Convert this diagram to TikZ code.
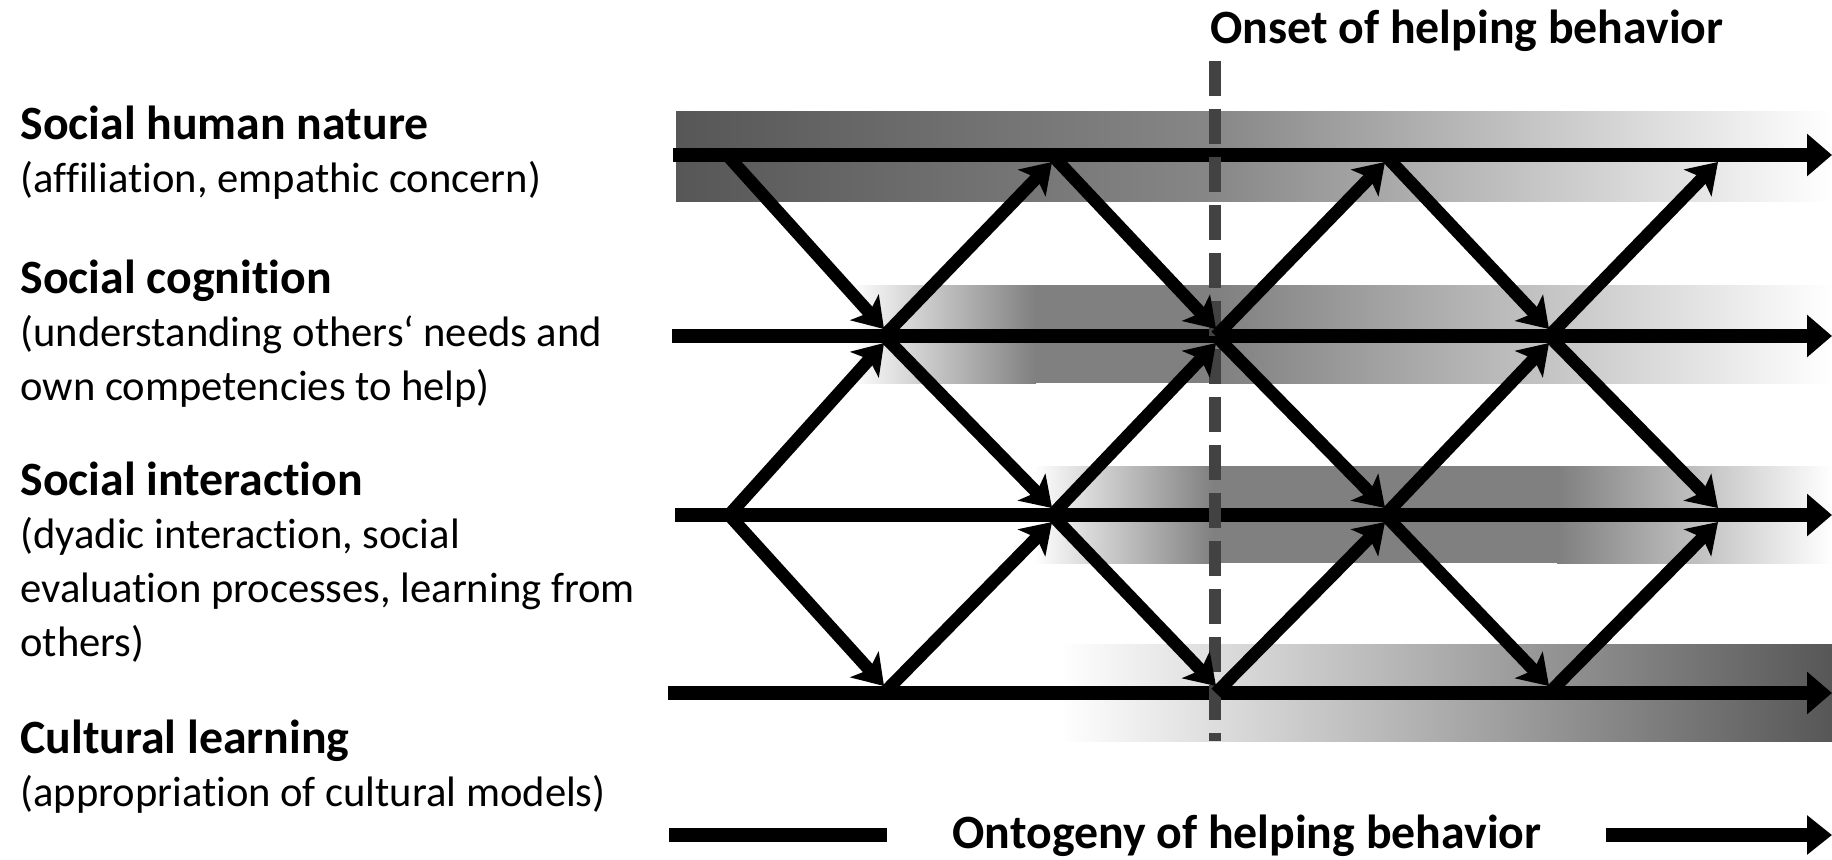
\documentclass[tikz,border=0pt]{standalone}
\usepackage{fontspec}
\setmainfont{Carlito}[Ligatures={NoCommon}]
\usetikzlibrary{arrows.meta}
\definecolor{dk}{gray}{0.34}
\definecolor{md}{gray}{0.50}
\definecolor{mdl}{gray}{0.53}
\definecolor{dashc}{gray}{0.26}
\begin{document}
\begin{tikzpicture}[x=0.5pt,y=-0.5pt,
  hline/.style={line width=7pt,-{Triangle[length=12.5pt,width=20.5pt]}},
  barline/.style={line width=7pt},
  diag/.style={line width=6.3pt,-{Stealth[length=14.5pt,width=19pt,inset=3.5pt]}},
  jn/.style={inner sep=0pt,outer sep=0pt,minimum width=0pt,minimum height=7pt,shape=rectangle},
  headtxt/.style={font=\fontsize{23.9}{28}\selectfont\bfseries,anchor=base west,inner sep=0pt},
  subtxt/.style={font=\fontsize{21.3}{26}\selectfont,anchor=base west,inner sep=0pt},
  onset/.style={line width=6pt,draw=dashc,dash pattern=on 17.5pt off 6.5pt},
  band/.style={draw=none}]
\useasboundingbox (0,0) rectangle (1832,859);

% ---- bands ----
\shade[band,left color=dk,right color=mdl] (676,111) rectangle (1216,201);
\shade[band,left color=mdl,right color=white] (1215,111) rectangle (1832,201);

\shade[band,left color=white,right color=md] (850,285) rectangle (1036,383);
\fill[md] (1035,285) rectangle (1216,383);
\shade[band,left color=md,right color=white] (1215,285) rectangle (1832,383);

\shade[band,left color=white,right color=md] (1034,466) rectangle (1214,563);
\fill[md] (1213,466) rectangle (1558,563);
\shade[band,left color=md,right color=white] (1557,466) rectangle (1832,563);

\shade[band,left color=white,right color=dk] (1060,644) rectangle (1832,741);

% ---- junctions ----
\node[jn] (a1) at (727,155) {};
\node[jn] (c1) at (1052,155) {};
\node[jn] (e1) at (1385,155) {};
\node[jn] (g1) at (1718,155) {};
\node[jn] (b2) at (884,336) {};
\node[jn] (d2) at (1216,336) {};
\node[jn] (f2) at (1549,336) {};
\node[jn] (a3) at (729,515) {};
\node[jn] (c3) at (1052,515) {};
\node[jn] (e3) at (1385,515) {};
\node[jn] (g3) at (1718,515) {};
\node[jn] (b4) at (884,693) {};
\node[jn] (d4) at (1216,693) {};
\node[jn] (f4) at (1549,693) {};

% ---- horizontal lines ----
\coordinate (l1s) at (673,155); \coordinate (l1e) at (1832,155);
\coordinate (l2s) at (672,336); \coordinate (l2e) at (1832,336);
\coordinate (l3s) at (675,515); \coordinate (l3e) at (1832,515);
\coordinate (l4s) at (668,693); \coordinate (l4e) at (1832,693);
\draw[hline] (l1s) -- (l1e);
\draw[hline] (l2s) -- (l2e);
\draw[hline] (l3s) -- (l3e);
\draw[hline] (l4s) -- (l4e);

% ---- onset dashed line ----
\coordinate (dtop) at (1215,61);
\coordinate (dbot) at (1215,741);
\draw[onset] (dtop) -- (dbot);

% ---- diagonals ----
\draw[diag] (a1.center) -- (b2.north);
\draw[diag] (b2.center) -- (c1.south);
\draw[diag] (c1.center) -- (d2.north);
\draw[diag] (d2.center) -- (e1.south);
\draw[diag] (e1.center) -- (f2.north);
\draw[diag] (f2.center) -- (g1.south);

\draw[diag] (a3.center) -- (b2.south);
\draw[diag] (b2.center) -- (c3.north);
\draw[diag] (c3.center) -- (d2.south);
\draw[diag] (d2.center) -- (e3.north);
\draw[diag] (e3.center) -- (f2.south);
\draw[diag] (f2.center) -- (g3.north);

\draw[diag] (a3.center) -- (b4.north);
\draw[diag] (b4.center) -- (c3.south);
\draw[diag] (c3.center) -- (d4.north);
\draw[diag] (d4.center) -- (e3.south);
\draw[diag] (e3.center) -- (f4.north);
\draw[diag] (f4.center) -- (g3.south);

% ---- texts ----
\node[headtxt] (onsettxt) at (1210,43) {Onset of helping behavior};

\node[headtxt] (t1a) at (20,139) {Social human nature};
\node[subtxt]  (t1b) at (20,192) {(affiliation, empathic concern)};
\node[headtxt] (t2a) at (20,293) {Social cognition};
\node[subtxt]  (t2b) at (20,346) {(understanding others‘ needs and};
\node[subtxt]  (t2c) at (20,400) {own competencies to help)};
\node[headtxt] (t3a) at (20,495) {Social interaction};
\node[subtxt]  (t3b) at (20,548) {(dyadic interaction, social};
\node[subtxt]  (t3c) at (20,602) {evaluation processes, learning from};
\node[subtxt]  (t3d) at (20,656) {others)};
\node[headtxt] (t4a) at (20,753) {Cultural learning};
\node[subtxt]  (t4b) at (20,806) {(appropriation of cultural models)};

% ---- ontogeny axis ----
\node[headtxt,anchor=base] (onto) at (1247,848) {Ontogeny of helping behavior};
\coordinate (bl1) at (669,835); \coordinate (bl2) at (887,835);
\coordinate (br1) at (1606,835); \coordinate (br2) at (1832,835);
\draw[barline] (bl1) -- (bl2);
\draw[line width=7pt,-{Triangle[length=12.5pt,width=19pt]}] (br1) -- (br2);
\end{tikzpicture}
\end{document}
